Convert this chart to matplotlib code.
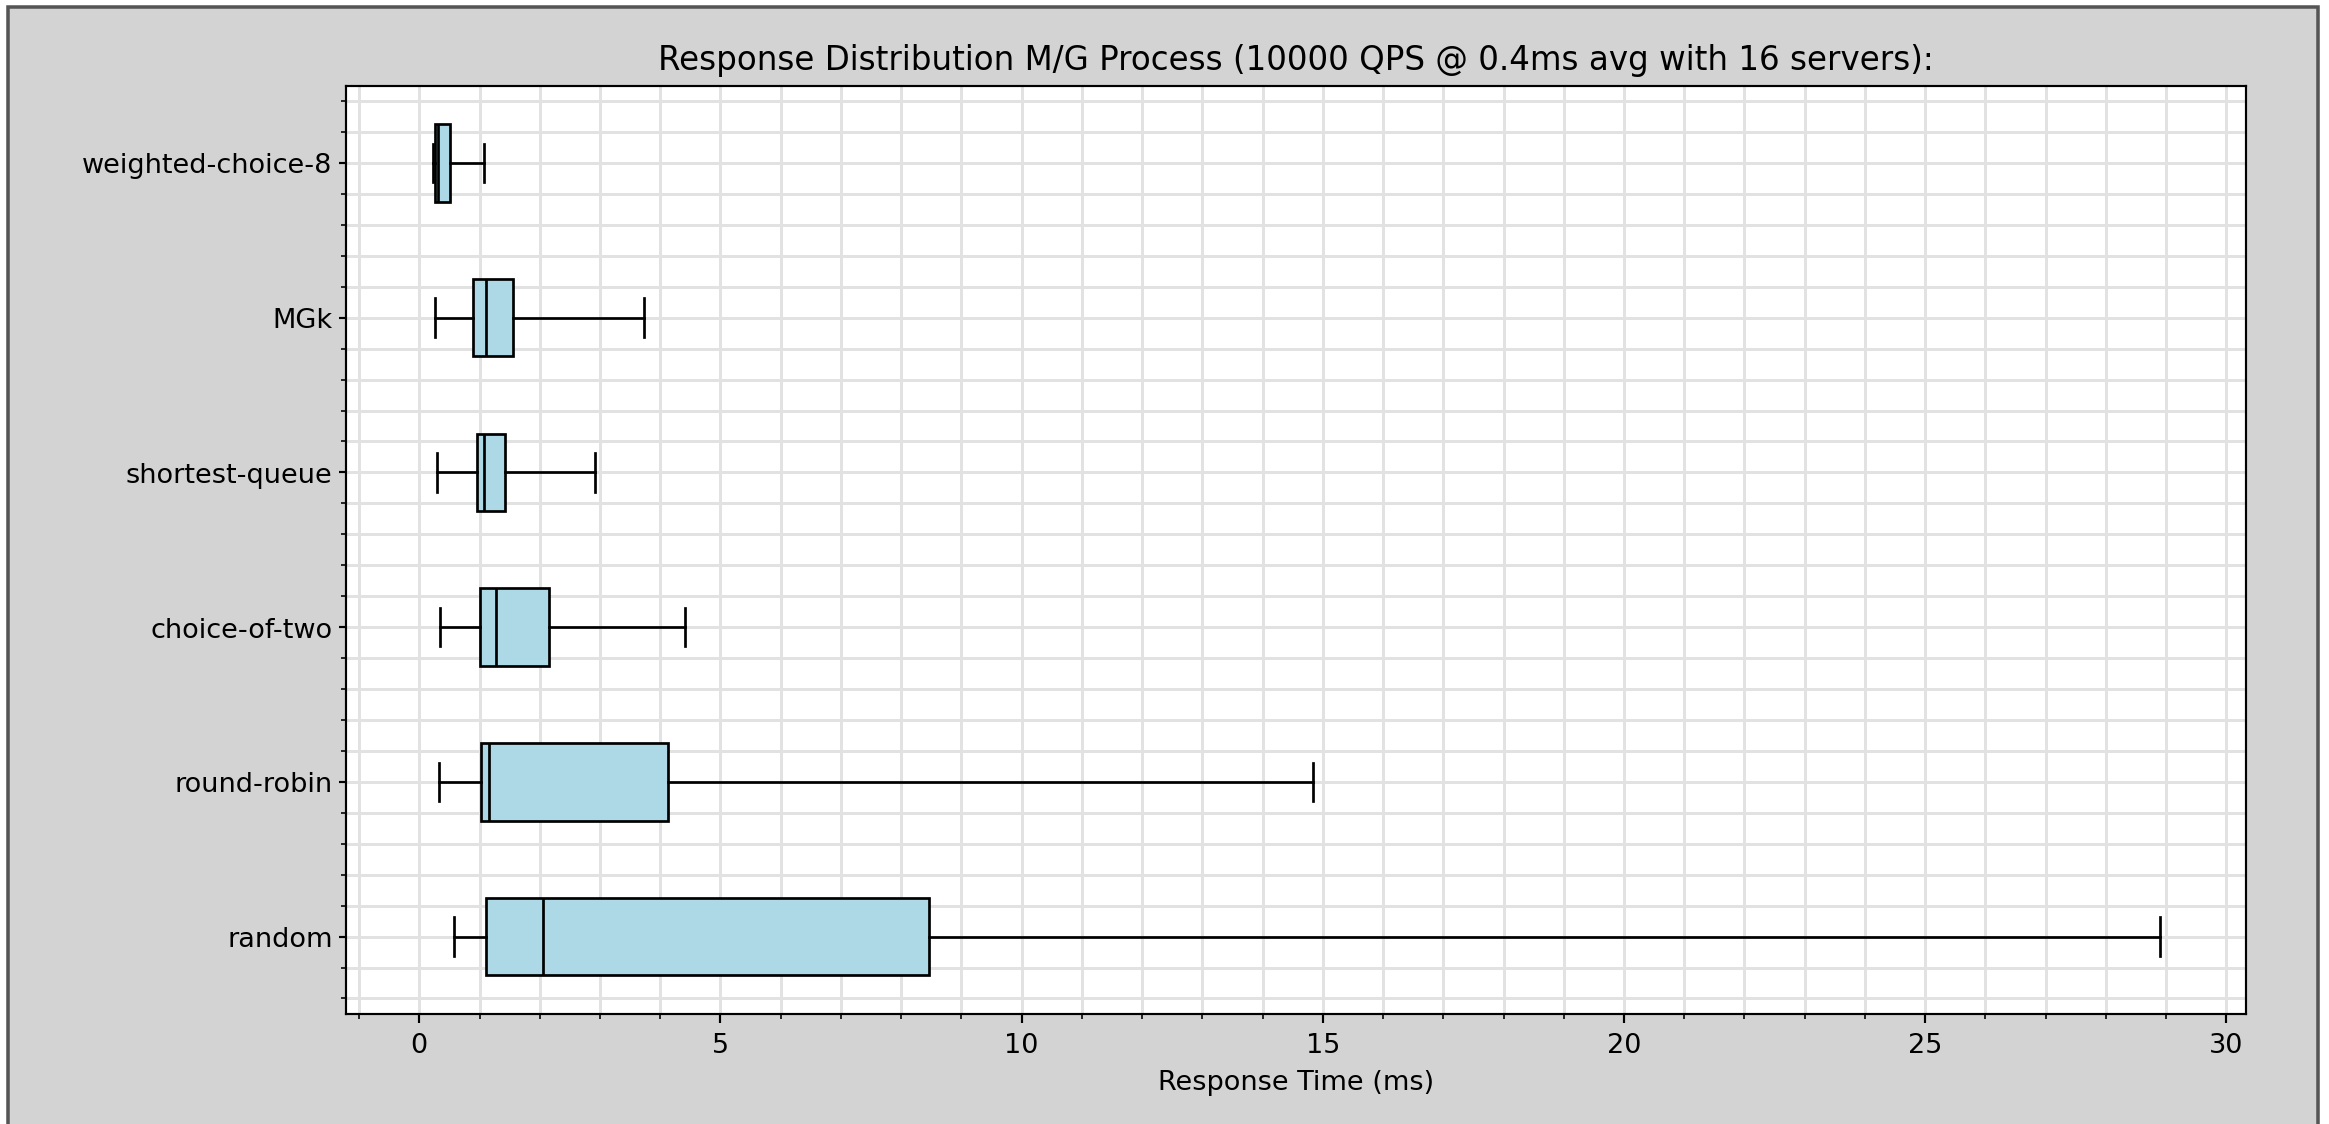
import matplotlib
matplotlib.use("Agg")
import matplotlib.pyplot as plt
from matplotlib.patches import Rectangle

# box stats (ms), bottom to top
labels = ["random", "round-robin", "choice-of-two", "shortest-queue", "MGk", "weighted-choice-8"]
whislo = [0.58, 0.32, 0.34, 0.29, 0.255, 0.22]
q1 = [1.11, 1.02, 1.01, 0.96, 0.90, 0.255]
med = [2.06, 1.16, 1.27, 1.07, 1.10, 0.31]
q3 = [8.47, 4.13, 2.15, 1.42, 1.56, 0.515]
whishi = [28.9, 14.83, 4.41, 2.92, 3.73, 1.075]

if __name__ == "__main__":
    dpi = 195
    fig = plt.figure(figsize=(2329.4 / dpi, 1124.4 / dpi), dpi=dpi, facecolor="white")
    # grey figure panel with a dark border (screenshot crops the bottom edge)
    fig.patches.append(Rectangle((8 / 2329, -0.05), (2318 - 8) / 2329, 1.05 - 7 / 1124,
                                 transform=fig.transFigure, facecolor="lightgray",
                                 edgecolor="#555555", linewidth=1.3, zorder=-10))
    fig.subplots_adjust(left=0.1486, right=0.9644, top=0.9235, bottom=0.0979)
    ax = fig.add_subplot(111)

    stats = []
    for i in range(len(labels)):
        stats.append({"label": labels[i], "whislo": whislo[i], "q1": q1[i], "med": med[i],
                      "q3": q3[i], "whishi": whishi[i], "fliers": []})

    ax.bxp(stats, orientation="horizontal", patch_artist=True, showfliers=False,
           boxprops=dict(facecolor="lightblue", edgecolor="black"),
           medianprops=dict(color="black"),
           whiskerprops=dict(color="black"),
           capprops=dict(color="black"))

    ax.set_title("Response Distribution M/G Process (10000 QPS @ 0.4ms avg with 16 servers):", fontsize=12)
    ax.set_xlabel("Response Time (ms)")
    ax.minorticks_on()
    ax.tick_params(axis="y", which="major", length=2.5, pad=2.5)
    ax.grid(True, which="both", color="#e2e2e2", linewidth=1.1)
    ax.set_axisbelow(True)

    fig.savefig("out.png", dpi=dpi, facecolor=fig.get_facecolor())
